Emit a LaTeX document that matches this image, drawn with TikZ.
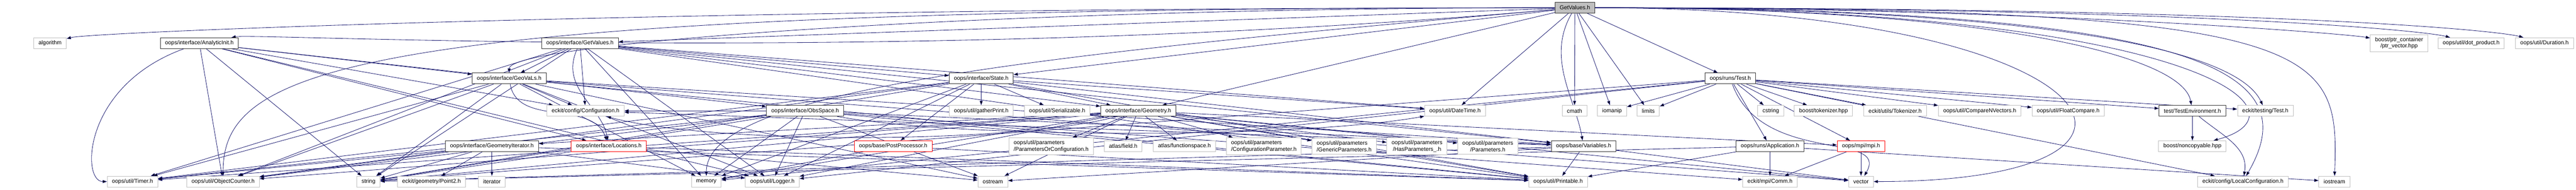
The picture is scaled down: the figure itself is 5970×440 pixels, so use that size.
\documentclass[tikz,border=0pt]{standalone}
\usepackage{fontspec}
\setmainfont{Liberation Sans}
\usetikzlibrary{arrows.meta,backgrounds}
\definecolor{edgeblue}{HTML}{191970}
\definecolor{grey75}{HTML}{BFBFBF}
\begin{document}
\begin{tikzpicture}[x=0.1pt, y=0.1pt,
    file/.style={draw=grey75, fill=white, line width=0.12pt, inner xsep=1.1pt, inner ysep=0.6pt,
                 minimum height=2.5pt, align=center, font=\fontsize{1.3}{1.5}\selectfont},
    doc/.style={file, draw=black!80},
    trunc/.style={file, draw=red},
    dep/.style={draw=edgeblue, line width=0.1pt, -{Triangle[length=1pt,width=0.7pt]}}]
    \useasboundingbox (0,0) rectangle (5970,-440);

    % Root
    \node[doc, fill=grey75] (root) at (3650,-18) {GetValues.h};

    % Row 1
    \node[file] (algo) at (116,-100) {algorithm};
    \node[doc] (analytic) at (462,-100) {oops/interface/AnalyticInit.h};
    \node[doc] (getvals) at (1344,-100) {oops/interface/GetValues.h};
    \node[file] (ptrvec) at (5560,-100) {boost/ptr\_container\\/ptr\_vector.hpp};
    \node[file] (dotprod) at (5727,-100) {oops/util/dot\_product.h};
    \node[file] (duration) at (5897,-100) {oops/util/Duration.h};

    % Row 2
    \node[doc] (geovals) at (1180,-182) {oops/interface/GeoVaLs.h};
    \node[doc] (state) at (2274,-182) {oops/interface/State.h};
    \node[doc] (runtest) at (4010,-182) {oops/runs/Test.h};

    % Row 3
    \node[file] (config) at (1357,-257) {eckit/config/Configuration.h};
    \node[doc] (obsspace) at (1866,-257) {oops/interface/ObsSpace.h};
    \node[file] (gather) at (2274,-257) {oops/util/gatherPrint.h};
    \node[file] (serial) at (2450,-257) {oops/util/Serializable.h};
    \node[doc] (geometry) at (2638,-257) {oops/interface/Geometry.h};
    \node[file] (datetime) at (3372,-257) {oops/util/DateTime.h};
    \node[file] (cmath) at (3649,-257) {cmath};
    \node[file] (iomanip) at (3736,-257) {iomanip};
    \node[file] (limits) at (3820,-257) {limits};
    \node[file] (cstring) at (4104,-257) {cstring};
    \node[file] (boosttok) at (4226,-257) {boost/tokenizer.hpp};
    \node[file] (eckittok) at (4392,-257) {eckit/utils/Tokenizer.h};
    \node[file] (cmpvec) at (4588,-257) {oops/util/CompareNVectors.h};
    \node[file] (floatcmp) at (4793,-257) {oops/util/FloatCompare.h};
    \node[doc] (testenv) at (5081,-257) {test/TestEnvironment.h};
    \node[file] (eckittest) at (5250,-257) {eckit/testing/Test.h};

    % Row 4
    \node[doc] (geoiter) at (1140,-339) {oops/interface/GeometryIterator.h};
    \node[trunc] (locations) at (1411,-339) {oops/interface/Locations.h};
    \node[trunc] (postproc) at (2070,-339) {oops/base/PostProcessor.h};
    \node[file, align=left] (paramorconf) at (2436,-339) {oops/util/parameters\\/ParametersOrConfiguration.h};
    \node[file] (field) at (2603,-339) {atlas/field.h};
    \node[file] (fspace) at (2745,-339) {atlas/functionspace.h};
    \node[file, align=left] (confparam) at (2929,-339) {oops/util/parameters\\/ConfigurationParameter.h};
    \node[file, align=left] (genparam) at (3115,-339) {oops/util/parameters\\/GenericParameters.h};
    \node[file] (hasparam) at (3284,-339) {oops/util/parameters\\/HasParameters\_.h};
    \node[file] (params) at (3448,-339) {oops/util/parameters\\/Parameters.h};
    \node[doc] (variables) at (3670,-339) {oops/base/Variables.h};
    \node[doc] (application) at (4102,-339) {oops/runs/Application.h};
    \node[trunc] (mpi) at (4313,-339) {oops/mpi/mpi.h};
    \node[file] (noncopy) at (5081,-339) {boost/noncopyable.hpp};

    % Row 5
    \node[file] (timer) at (307,-421) {oops/util/Timer.h};
    \node[file] (objcount) at (517,-421) {oops/util/ObjectCounter.h};
    \node[file] (string) at (854,-421) {string};
    \node[file] (point2) at (1000,-421) {eckit/geometry/Point2.h};
    \node[file] (iterator) at (1140,-421) {iterator};
    \node[file] (memory) at (1637,-421) {memory};
    \node[file] (logger) at (1790,-421) {oops/util/Logger.h};
    \node[file] (ostream) at (2301,-421) {ostream};
    \node[file] (printable) at (3611,-421) {oops/util/Printable.h};
    \node[file] (comm) at (4102,-421) {eckit/mpi/Comm.h};
    \node[file] (vector) at (4313,-421) {vector};
    \node[file] (localconf) at (5198,-421) {eckit/config/LocalConfiguration.h};
    \node[file] (iostream) at (5410,-421) {iostream};

    \begin{pgfonlayer}{background}
    % Root includes
    \path[dep] (root)
        edge[out=180, in=15, out distance=200pt, in distance=6pt] (algo)
        edge[out=185, in=10, out distance=150pt, in distance=6pt] (analytic)
        edge (getvals)
        edge[out=180, in=90, out distance=130pt, in distance=7pt] (geovals)
        edge[out=180, in=90, out distance=280pt, in distance=25pt] (objcount)
        edge[out=185, in=90, out distance=120pt, in distance=20pt] (memory)
        edge (state)
        edge (geometry)
        edge (datetime)
        edge (cmath)
        edge (iomanip)
        edge (limits)
        edge[out=240, in=100, out distance=12pt, in distance=10pt] (variables)
        edge (runtest)
        edge[out=0, in=170, out distance=100pt, in distance=6pt] (ptrvec)
        edge[out=0, in=165, out distance=140pt, in distance=6pt] (dotprod)
        edge[out=0, in=165, out distance=160pt, in distance=6pt] (duration)
        edge[out=0, in=100, out distance=90pt, in distance=12pt] (testenv)
        edge[out=0, in=115, out distance=100pt, in distance=15pt] (eckittest)
        edge[out=0, in=15, out distance=140pt, in distance=25pt] (noncopy)
        edge[out=0, in=0, out distance=120pt, in distance=80pt] (vector)
        edge[out=0, in=60, out distance=150pt, in distance=25pt] (localconf)
        edge[out=0, in=88, out distance=170pt, in distance=30pt] (iostream);

    % oops/interface/GetValues.h
    \path[dep] (getvals)
        edge (geovals) edge (config)
        edge[out=-115, in=100, out distance=10pt, in distance=8pt] (locations)
        edge (state) edge (geometry) edge (variables) edge (datetime)
        edge (logger) edge (memory) edge (printable) edge (objcount) edge (timer) edge (string);

    % oops/interface/GeoVaLs.h
    \path[dep] (geovals)
        edge (config) edge[out=-80, in=110] (locations) edge (variables)
        edge (logger) edge (memory) edge (ostream) edge (printable) edge (vector)
        edge (string) edge (objcount) edge (timer);

    % oops/interface/AnalyticInit.h
    \path[dep] (analytic)
        edge (config) edge (geovals) edge (locations) edge (obsspace) edge (logger)
        edge[out=200, in=180, out distance=25pt, in distance=6pt] (timer)
        edge (objcount) edge (string);

    % oops/interface/State.h
    \path[dep] (state)
        edge (postproc) edge (gather) edge (serial) edge (geometry) edge (variables)
        edge (datetime) edge (logger) edge (memory) edge (string) edge (printable)
        edge (objcount) edge (timer);

    % oops/interface/ObsSpace.h
    \path[dep] (obsspace)
        edge (memory) edge (logger) edge (ostream) edge (string) edge (config) edge (comm)
        edge (variables)
        edge[out=-10, in=-170, out distance=30pt, in distance=30pt] (datetime)
        edge (printable) edge (objcount) edge (timer);

    % oops/interface/Geometry.h
    \path[dep] (geometry)
        edge (paramorconf) edge (field) edge (fspace) edge (confparam) edge (genparam)
        edge (hasparam) edge (params) edge (geoiter) edge (mpi)
        edge[out=195, in=-15, out distance=25pt, in distance=25pt] (config)
        edge (logger) edge (memory) edge (string) edge (vector) edge (ostream)
        edge (printable) edge (objcount) edge (timer);

    % oops/interface/GeometryIterator.h
    \path[dep] (geoiter)
        edge (iterator) edge (point2) edge (string) edge (logger) edge (objcount)
        edge (printable) edge (timer);

    % oops/base/Variables.h
    \path[dep] (variables)
        edge (printable) edge (ostream) edge (string) edge (vector) edge (config);

    % oops/runs/Test.h
    \path[dep] (runtest)
        edge (iomanip) edge (limits) edge (cstring) edge (boosttok) edge (eckittok)
        edge (cmpvec) edge (floatcmp) edge (testenv) edge (eckittest) edge (application)
        edge (mpi)
        edge[out=-70, in=60, out distance=20pt, in distance=12pt] (vector)
        edge (string) edge (memory) edge (localconf) edge (logger);

    % oops/runs/Application.h
    \path[dep] (application)
        edge (comm) edge (string) edge (iostream) edge (printable);

    % Remaining includes
    \path[dep] (mpi) edge (comm) edge (vector);
    \path[dep] (testenv) edge (noncopy) edge[out=-40, in=80] (localconf);
    \path[dep] (locations) edge (ostream) edge (printable) edge (string);
    \path[dep] (postproc) edge (memory) edge (printable);
    \end{pgfonlayer}
\end{tikzpicture}
\end{document}
